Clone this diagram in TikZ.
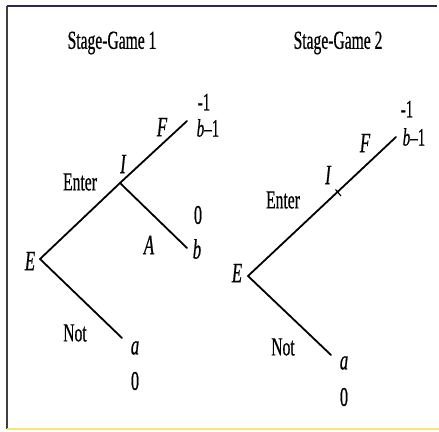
\documentclass[tikz,border=0pt]{standalone}
\usepackage{fontspec}
\setmainfont[FakeStretch=0.6,FakeBold=0.6]{Liberation Serif}
\begin{document}
\begin{tikzpicture}[x=1pt,y=-1pt,
  edge/.style={line width=1.8pt,line cap=round},
  lbl/.style={inner sep=0pt,font=\fontsize{26}{28}\selectfont},
  ital/.style={inner sep=0pt,font=\fontsize{28}{30}\selectfont\itshape},
  pay/.style={inner sep=0pt,font=\fontsize{27}{29}\selectfont},
  paysm/.style={inner sep=0pt,font=\fontsize{25}{27}\selectfont}]
\useasboundingbox (0,0) rectangle (439,431);
\fill[white] (0,0) rectangle (439,431);
% frame
\coordinate (tl) at (7,6);
\coordinate (tr) at (437,6);
\coordinate (bl) at (7,429);
\coordinate (br) at (439,429);
\draw[line width=2pt,color=black!75] (tl) -- (bl);
\draw[line width=2pt,color={rgb,255:red,40;green,40;blue,80}] (tl) -- (tr);
\draw[line width=2pt,color={rgb,255:red,245;green,230;blue,110}] (bl) -- (br);

% tree 1
\coordinate (E1) at (40,259);
\coordinate (I1) at (120,183);
\coordinate (F1) at (187,121);
\coordinate (A1) at (187,248);
\coordinate (N1) at (122,338);
\draw[edge] (E1) -- (I1);
\draw[edge] (I1) -- (F1);
\draw[edge] (I1) -- (A1);
\draw[edge] (E1) -- (N1);
\node[lbl] (t1) at (112,43) {Stage-Game 1};
\node[paysm] (p1a) at (204,102) {-1};
\node[paysm] (p1b) at (208,128) {\textit{b}–1};
\node[ital] (lF1) at (162,127) {F};
\node[ital] (lI1) at (123,164) {I};
\node[lbl] (en1) at (80,182) {Enter};
\node[pay] (p2a) at (198,215) {0};
\node[ital] (p2b) at (197,249) {b};
\node[ital] (lA1) at (149,245) {A};
\node[ital] (lE1) at (30,261) {E};
\node[lbl] (no1) at (75,333) {Not};
\node[ital] (p3a) at (135,348) {a};
\node[pay] (p3b) at (135,381) {0};

% tree 2
\coordinate (E2) at (248,276);
\coordinate (T2) at (396,137);
\coordinate (N2) at (331,355);
\coordinate (I2) at (338,192);
\coordinate (I2a) at (335.5,189.5);
\coordinate (I2b) at (341,196);
\draw[edge] (E2) -- (T2);
\draw[edge] (E2) -- (N2);
\draw[line width=1.2pt] (I2a) -- (I2b);
\node[lbl] (t2) at (338,43) {Stage-Game 2};
\node[paysm] (q1a) at (407,109) {-1};
\node[paysm] (q1b) at (414,137) {\textit{b}–1};
\node[ital] (lF2) at (365,143) {F};
\node[ital] (lI2) at (328,175) {I};
\node[lbl] (en2) at (283,200) {Enter};
\node[ital] (lE2) at (237,273) {E};
\node[lbl] (no2) at (283,347) {Not};
\node[ital] (q3a) at (344,363) {a};
\node[pay] (q3b) at (344,397) {0};
\end{tikzpicture}
\end{document}
